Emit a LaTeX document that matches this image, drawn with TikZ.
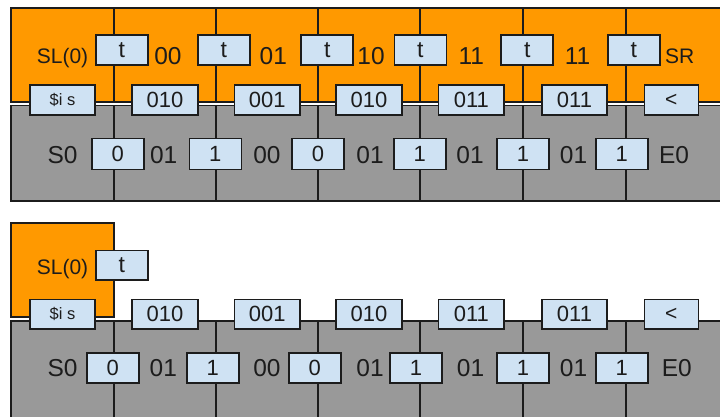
\documentclass[tikz,border=0pt]{standalone}
\usepackage{fontspec}
\setmainfont{Liberation Sans}
\definecolor{tapeorange}{HTML}{FF9900}
\definecolor{tapegray}{HTML}{999999}
\definecolor{cellblue}{HTML}{CFE2F3}
\definecolor{inkline}{HTML}{1C1C1C}
\tikzset{
	band/.style={draw=inkline,line width=1.8pt},
	cell/.style={draw=inkline,line width=1.6pt,fill=cellblue,inner sep=0pt,minimum width=52pt,minimum height=29.5pt,text=inkline,font=\fontsize{22}{22}\selectfont},
	widecell/.style={cell,minimum width=65.5pt},
	tcell/.style={cell,font=\fontsize{23}{23}\selectfont},
	word/.style={inner sep=0pt,anchor=base,text=inkline,font=\fontsize{24.5}{24.5}\selectfont},
	smallword/.style={word,font=\fontsize{21}{21}\selectfont}
}

\begin{document}
\begin{tikzpicture}[x=1pt,y=-1pt]
		\useasboundingbox (0,0) rectangle (720,416);
		\clip (0,0) rectangle (720,416);
		\draw[band,fill=tapeorange] (11,8) rectangle (740,102);
		\draw[band,fill=tapegray] (11,105.5) rectangle (740,201);
		\draw[band,fill=tapeorange] (11,222.7) rectangle (114.3,317.3);
		\draw[band,fill=tapegray] (11,321) rectangle (740,440);
		\foreach \x in {114.3,216,318.3,420,522.7,625.7}{
			\draw[band] (\x,8) -- (\x,102);
			\draw[band] (\x,105.5) -- (\x,201);
			\draw[band] (\x,321) -- (\x,440);
		}
		\node[smallword] (aleft) at (62.5,63.5) {SL(0)};
		\node[smallword] (aright) at (679.7,63.5) {SR};
		\foreach \x/\s [count=\i] in {168/00,273.3/01,371/10,471.3/11,577.5/11}
			\node[word] (atext\i) at (\x,64.5) {\s};
		\foreach \x [count=\i] in {121.7,223.7,327.2,420.3,527.2,633.7}
			\node[tcell] (atrans\i) at (\x,50) {t};
		\node[widecell,font=\fontsize{16.5}{16.5}\selectfont] (amid1) at (62.5,100) {\$i s};
		\foreach \x/\s [count=\i from 2] in {165/010,267.2/001,369/010,471.3/011,574.5/011}
			\node[widecell] (amid\i) at (\x,100) {\s};
		\node[cell,minimum width=54pt,font=\fontsize{21}{21}\selectfont] (amid7) at (671.3,100) {<};
		\foreach \x/\s [count=\i] in {117.8/0,215.3/1,318/0,419.8/1,523/1,621.7/1}
			\node[cell,minimum height=31pt] (abit\i) at (\x,154) {\s};
		\foreach \x/\s [count=\i] in {62.5/S0,163.7/01,267/00,370/01,470/01,573.5/01,674/E0}
			\node[word] (alow\i) at (\x,163) {\s};
		\node[smallword] (bleft) at (62.5,274) {SL(0)};
		\node[tcell] (btrans1) at (121.7,265.3) {t};
		\node[widecell,font=\fontsize{16.5}{16.5}\selectfont] (bmid1) at (62.5,314.2) {\$i s};
		\foreach \x/\s [count=\i from 2] in {165/010,267.2/001,369/010,471.3/011,574.5/011}
			\node[widecell] (bmid\i) at (\x,314.2) {\s};
		\node[cell,minimum width=54pt,font=\fontsize{21}{21}\selectfont] (bmid7) at (671.3,314.2) {<};
		\foreach \x/\s [count=\i] in {112.7/0,212.7/1,314.7/0,416/1,523/1,621.7/1}
			\node[cell] (bbit\i) at (\x,368) {\s};
		\foreach \x/\s [count=\i] in {62.5/S0,163.3/01,267/00,370/01,470.5/01,573.5/01,676.8/E0}
			\node[word] (blow\i) at (\x,376.5) {\s};
\end{tikzpicture}
\end{document}
